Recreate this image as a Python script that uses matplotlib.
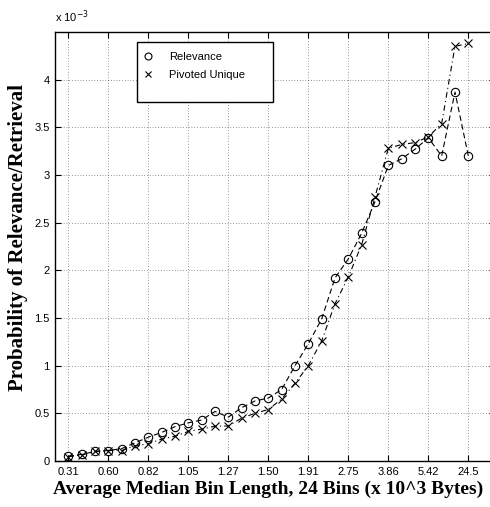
import numpy as np
import matplotlib
matplotlib.use("Agg")
import matplotlib.pyplot as plt
from matplotlib.lines import Line2D
from matplotlib.patches import Rectangle

# bin positions and labels (every third bin is labelled)
bins = np.arange(1, 32)
tick_pos = np.arange(1, 32, 3)
tick_labels = ["0.31", "0.60", "0.82", "1.05", "1.27", "1.50",
               "1.91", "2.75", "3.86", "5.42", "24.5"]

# values in units of 1e-3
relevance = [0.05, 0.07, 0.10, 0.11, 0.13, 0.19, 0.25, 0.30, 0.36, 0.40,
             0.43, 0.52, 0.46, 0.56, 0.63, 0.66, 0.75, 1.00, 1.23, 1.49,
             1.92, 2.12, 2.39, 2.72, 3.10, 3.17, 3.27, 3.39, 3.20, 3.87, 3.20]
pivoted = [0.045, 0.063, 0.10, 0.11, 0.11, 0.16, 0.18, 0.23, 0.26, 0.31,
           0.335, 0.365, 0.367, 0.45, 0.50, 0.54, 0.65, 0.815, 1.00, 1.26,
           1.65, 1.93, 2.27, 2.77, 3.28, 3.32, 3.34, 3.40, 3.54, 4.35, 4.38]

sans = ["Liberation Sans", "DejaVu Sans"]
serif = ["Liberation Serif", "DejaVu Serif"]

fig = plt.figure(figsize=(4.9, 5.07), dpi=100)
ax = fig.add_axes([55 / 490, 46 / 507, 440 / 490, 429 / 507])

ax.plot(bins, relevance, color="black", ls=(0, (5, 3)), lw=0.8,
        marker="o", ms=6, mfc="none", mec="black", mew=0.8)
ax.plot(bins, pivoted, color="black", ls=(0, (5, 3, 1, 3)), lw=0.8,
        marker="x", ms=6, mec="black", mew=0.8)

ax.set_xlim(0, 33)
ax.set_ylim(0, 4.5)
ax.set_xticks(tick_pos)
ax.set_xticklabels(tick_labels, fontfamily=sans, fontsize=8)
ax.set_yticks(np.arange(0, 4.01, 0.5))
ax.set_yticklabels(["0", "0.5", "1", "1.5", "2", "2.5", "3", "3.5", "4"],
                   fontfamily=sans, fontsize=8)
ax.tick_params(direction="in", top=True, right=True, length=4, width=0.8,
               pad=4)
ax.grid(True, ls=(0, (1, 3)), color="black", lw=0.5, alpha=0.8)
for s in ax.spines.values():
    s.set_linewidth(1.0)

ax.set_xlabel("Average Median Bin Length, 24 Bins (x 10^3 Bytes)",
              fontfamily=serif, fontweight="bold", fontsize=14)
ax.xaxis.set_label_coords(0.485, -0.046)
ax.set_ylabel("Probability of Relevance/Retrieval",
              fontfamily=serif, fontweight="bold", fontsize=15)
ax.yaxis.set_label_coords(-0.062, 0.52)

fig.text(55 / 490, 1 - 17 / 507, r"x 10$^{-3}$", fontfamily=sans,
         fontsize=8, va="center", ha="left")

# legend box drawn like the original (wide right margin)
ax.add_patch(Rectangle((82 / 440, 1 - 70 / 429), 136 / 440, 60 / 429,
                       transform=ax.transAxes, facecolor="white",
                       edgecolor="black", lw=1.0, zorder=5))
handles = [Line2D([], [], ls="none", marker="o", ms=5, mfc="none",
                  mec="black", mew=0.8),
           Line2D([], [], ls="none", marker="x", ms=5, mec="black",
                  mew=0.8)]
leg = ax.legend(handles, ["Relevance", "Pivoted Unique"],
                loc="upper left", bbox_to_anchor=(86 / 440, 1 - 20 / 429),
                prop={"family": sans, "size": 8}, frameon=False,
                handlelength=1.2, borderpad=0, labelspacing=0.75,
                handletextpad=1.3, borderaxespad=0)
leg.set_zorder(6)

fig.savefig("out.png", dpi=100)
